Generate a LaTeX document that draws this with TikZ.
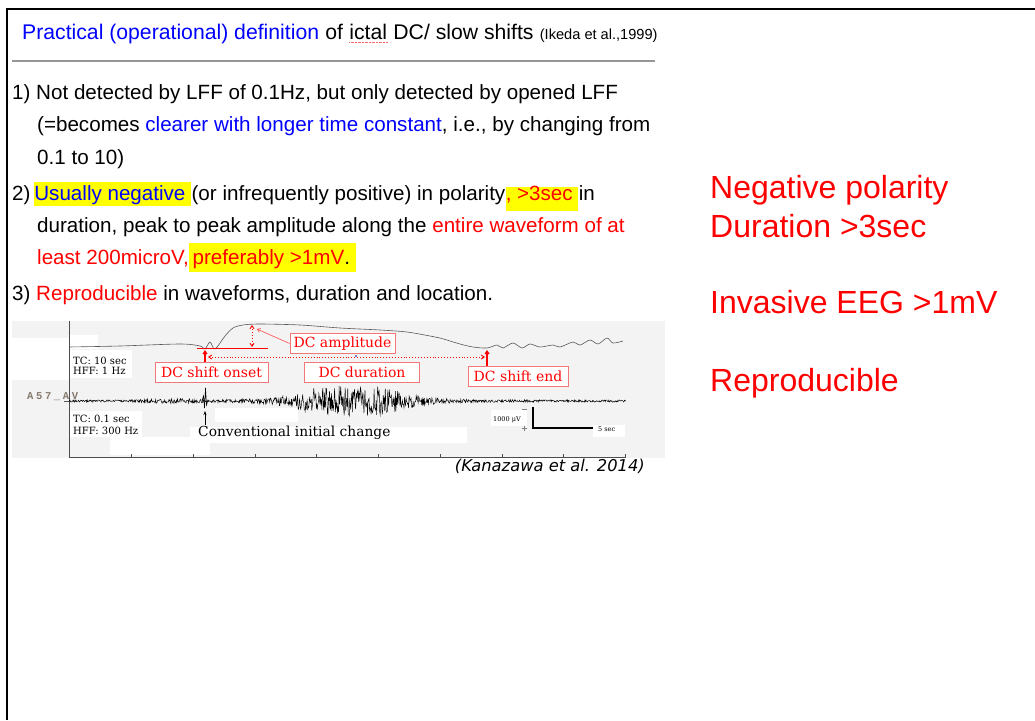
\documentclass[tikz,border=0pt]{standalone}
\usepackage{fontspec}
\setmainfont{Liberation Sans}
\newfontfamily\eegfont{DejaVu Serif}
\newfontfamily\chanfont[LetterSpace=25]{Liberation Mono}
\newfontfamily\reffont{DejaVu Sans}
\usetikzlibrary{positioning, arrows.meta}

\definecolor{hlyellow}{RGB}{255,255,0}
\definecolor{figgray}{RGB}{243,243,243}
\definecolor{boxred}{RGB}{240,120,120}
\definecolor{rulegray}{RGB}{150,150,150}
\definecolor{changray}{RGB}{135,122,110}

\begin{document}
\begin{tikzpicture}[x=1pt, y=-1pt,
    body/.style={anchor=base west, inner sep=0pt, font=\fontsize{20.6}{24}\selectfont},
    ttl/.style={body, font=\fontsize{21.2}{24}\selectfont},
    hl/.style={body, fill=hlyellow, text height=18pt, text depth=6pt},
    side/.style={anchor=base west, inner sep=0pt, text=red, font=\fontsize{32}{38}\selectfont},
    dcbox/.style={draw=boxred, fill=white, text=red, line width=0.8pt, inner sep=0pt,
        minimum height=20pt, font=\eegfont\fontsize{14}{16}\selectfont},
    eeglbl/.style={anchor=base west, inner sep=0pt, font=\eegfont\fontsize{10}{11}\selectfont},
    redtip/.style={-{Straight Barb[length=3pt, width=4pt]}},
    declare function={bump(\t)=1/(1+pow(min(abs(\t),8),4));}]
    \useasboundingbox (0,0) rectangle (1035,720);

    % Frame
    \draw[line width=2.5pt] (7,720) -- (7,9) -- (1035,9);

    % Title
    \node[ttl, text=blue] (ttl1) at (22,39) {Practical (operational) definition};
    \node[ttl] (ttl2) at (ttl1.base east) {\ of\ \null};
    \node[ttl] (ttl3) at (ttl2.base east) {ictal};
    \node[ttl] (ttl4) at (ttl3.base east) {\ DC/ slow shifts\ \null};
    \node[body, font=\fontsize{14.6}{17}\selectfont] (ttl5) at (ttl4.base east) {(Ikeda et al.,1999)};
    \draw[red!60, line width=0.4pt, densely dotted] ([yshift=-3pt]ttl3.base west) -- ([yshift=-3pt]ttl3.base east);
    \draw[rulegray, line width=1.5pt] (12,61) -- (655,61);

    % Item 1
    \node[body] (t1) at (12,99) {1) Not detected by LFF of 0.1Hz, but only detected by opened LFF};
    \node[body] (t2) at (37,131) {(=becomes \textcolor{blue}{clearer with longer time constant}, i.e., by changing from};
    \node[body] (t3) at (37,164) {0.1 to 10)};

    % Item 2
    \node[body] (t4a) at (12,200) {2)\,\null};
    \node[hl] (t4b) at (t4a.base east) {\textcolor{blue}{Usually negative}\ \null};
    \node[body] (t4c) at (t4b.base east) {(or infrequently positive) in polarity};
    \node[hl, text height=13pt, text depth=11pt] (t4d) at (t4c.base east) {\textcolor{red}{, >3sec}\ \null};
    \node[body] (t4e) at (t4d.base east) {in};
    \node[body] (t5) at (37,232) {duration, peak to peak amplitude along the \textcolor{red}{entire waveform of at}};
    \node[body] (t6a) at (37,264) {\textcolor{red}{least 200microV,}};
    \node[hl, text height=21pt, text depth=8pt] (t6b) at (t6a.base east) {\textcolor{red}{\,preferably >1mV}.\ \null};

    % Item 3
    \node[body] (t7) at (12,300) {3) \textcolor{red}{Reproducible} in waveforms, duration and location.};

    % EEG figure
    \fill[figgray] (12,321) rectangle (665,458);
    \fill[white] (12,338) rectangle (69,380);
    \fill[white] (69,335) rectangle (98,349);
    \fill[white] (69,350) rectangle (132,378);
    \fill[white] (69,411) rectangle (142,437);
    \fill[white] (110,437) rectangle (210,455);
    \fill[white] (215,408) rectangle (298,422);
    \fill[white] (190,427) rectangle (467,443);
    \fill[white] (491,410) rectangle (527,426);
    \fill[white] (593,425) rectangle (625,437);
    \draw[gray!60!black, line width=0.6pt] (69,321) -- (69,457) -- (626,457);
    \foreach \tx in {131,193,255,316,378,440,502,563,625}
        \draw[gray!60!black, line width=0.5pt] (\tx,457) -- (\tx,454);

    % DC trace
    \draw[gray!70!black, line width=0.6pt] plot[smooth] coordinates {(69,347) (120,346) (180,344) (200,346)
        (205,349) (210,342) (215,349) (225,336) (233,328) (243,325) (260,324) (300,325) (340,328)
        (380,330) (407,332) (430,336) (440,338) (460,344) (473,347) (487,348) (497,345) (503,348)
        (513,343) (522,348) (530,344) (540,347) (553,345) (560,347) (573,342) (580,345) (590,340)
        (598,344) (607,338) (613,343) (623,341)};

    % AC trace
    \pgfmathsetseed{42}
    \draw[black, line width=0.45pt] plot[domain=69:626, samples=1100]
        (\x, {401 + (1.1 + 1.3*bump((\x-170)/25) + 14*bump((\x-350)/55))*rand});
    \draw[black, line width=0.6pt] (202,401) -- (203.5,396) -- (204.5,408) -- (205.5,388)
        -- (206.5,405) -- (208,400) -- (209,402);
    \node[anchor=base west, inner sep=0pt, text=changray,
        font=\chanfont\bfseries\fontsize{10.5}{12}\selectfont] (chan) at (27,399) {A57\_AV};
    \draw[gray!70!black, line width=0.5pt] (chan.base east) ++(-14,2) -- (69,401);

    % Filter settings
    \node[eeglbl] (tc1) at (73,364) {TC: 10 sec};
    \node[eeglbl] (hff1) at (73,374) {HFF: 1 Hz};
    \node[eeglbl] (tc2) at (73,422) {TC: 0.1 sec};
    \node[eeglbl] (hff2) at (73,434) {HFF: 300 Hz};

    % Conventional onset
    \coordinate (spk) at (205,411);
    \node[eeglbl, font=\eegfont\fontsize{13.8}{15}\selectfont] (cic) at (198,436) {Conventional initial change};
    \draw[line width=0.9pt, -{Stealth[length=4pt, width=3pt]}] (cic.north -| spk) -- (spk);

    % Scale bar
    \node[eeglbl, font=\eegfont\fontsize{6.5}{8}\selectfont] (uv) at (493,421) {1000 μV};
    \node[eeglbl, font=\eegfont\fontsize{6.5}{8}\selectfont] (sec) at (598,431) {5 sec};
    \draw[line width=2.5pt] (533,407) -- (533,428) -- (593,428);
    \draw[gray, line width=0.4pt] (522,409) -- (527,409) (522,428) -- (527,428) (524.5,425.5) -- (524.5,430.5);

    % DC annotations
    \coordinate (on) at (205,350);
    \coordinate (en) at (487,350);
    \coordinate (pk) at (252,325);
    \coordinate (pb) at (252,347);
    \coordinate (ampt) at (257,329);
    \coordinate (dl) at (208,357);
    \coordinate (dr) at (485,357);
    \draw[red, line width=0.5pt] (197,348) -- (268,348);
    \draw[red, dotted, line width=0.9pt, {Straight Barb[length=3pt, width=4pt]}-{Straight Barb[length=3pt, width=4pt]}] (pk) -- (pb);
    \draw[red, dotted, line width=0.9pt, {Straight Barb[length=3pt, width=4pt]}-{Straight Barb[length=3pt, width=4pt]}] (dl) -- (dr);
    \fill[blue!60!black] (356,356) circle (0.8pt);
    \node[dcbox, minimum width=105pt] (amp) at (342.5,343.5) {DC amplitude};
    \node[dcbox, minimum width=113pt] (onset) at (211.5,372) {DC shift onset};
    \node[dcbox, minimum width=115pt] (dur) at (362,372) {DC duration};
    \node[dcbox, minimum width=100pt] (endb) at (518,376.5) {DC shift end};
    \draw[red!80, line width=0.5pt, redtip] (amp.west) -- (ampt);
    \draw[red, line width=1.2pt, redtip] (onset.north -| on) -- (on);
    \draw[red, line width=1.2pt, redtip] (endb.north -| en) -- (en);

    % Source
    \node[anchor=base east, inner sep=0pt, font=\reffont\itshape\fontsize{16.3}{19}\selectfont] (src) at (645,471) {(Kanazawa et al. 2014)};

    % Summary
    \node[side] (s1) at (710,198) {Negative polarity};
    \node[side] (s2) at (710,237) {Duration >3sec};
    \node[side] (s3) at (710,313) {Invasive EEG >1mV};
    \node[side] (s4) at (710,391) {Reproducible};
\end{tikzpicture}
\end{document}
